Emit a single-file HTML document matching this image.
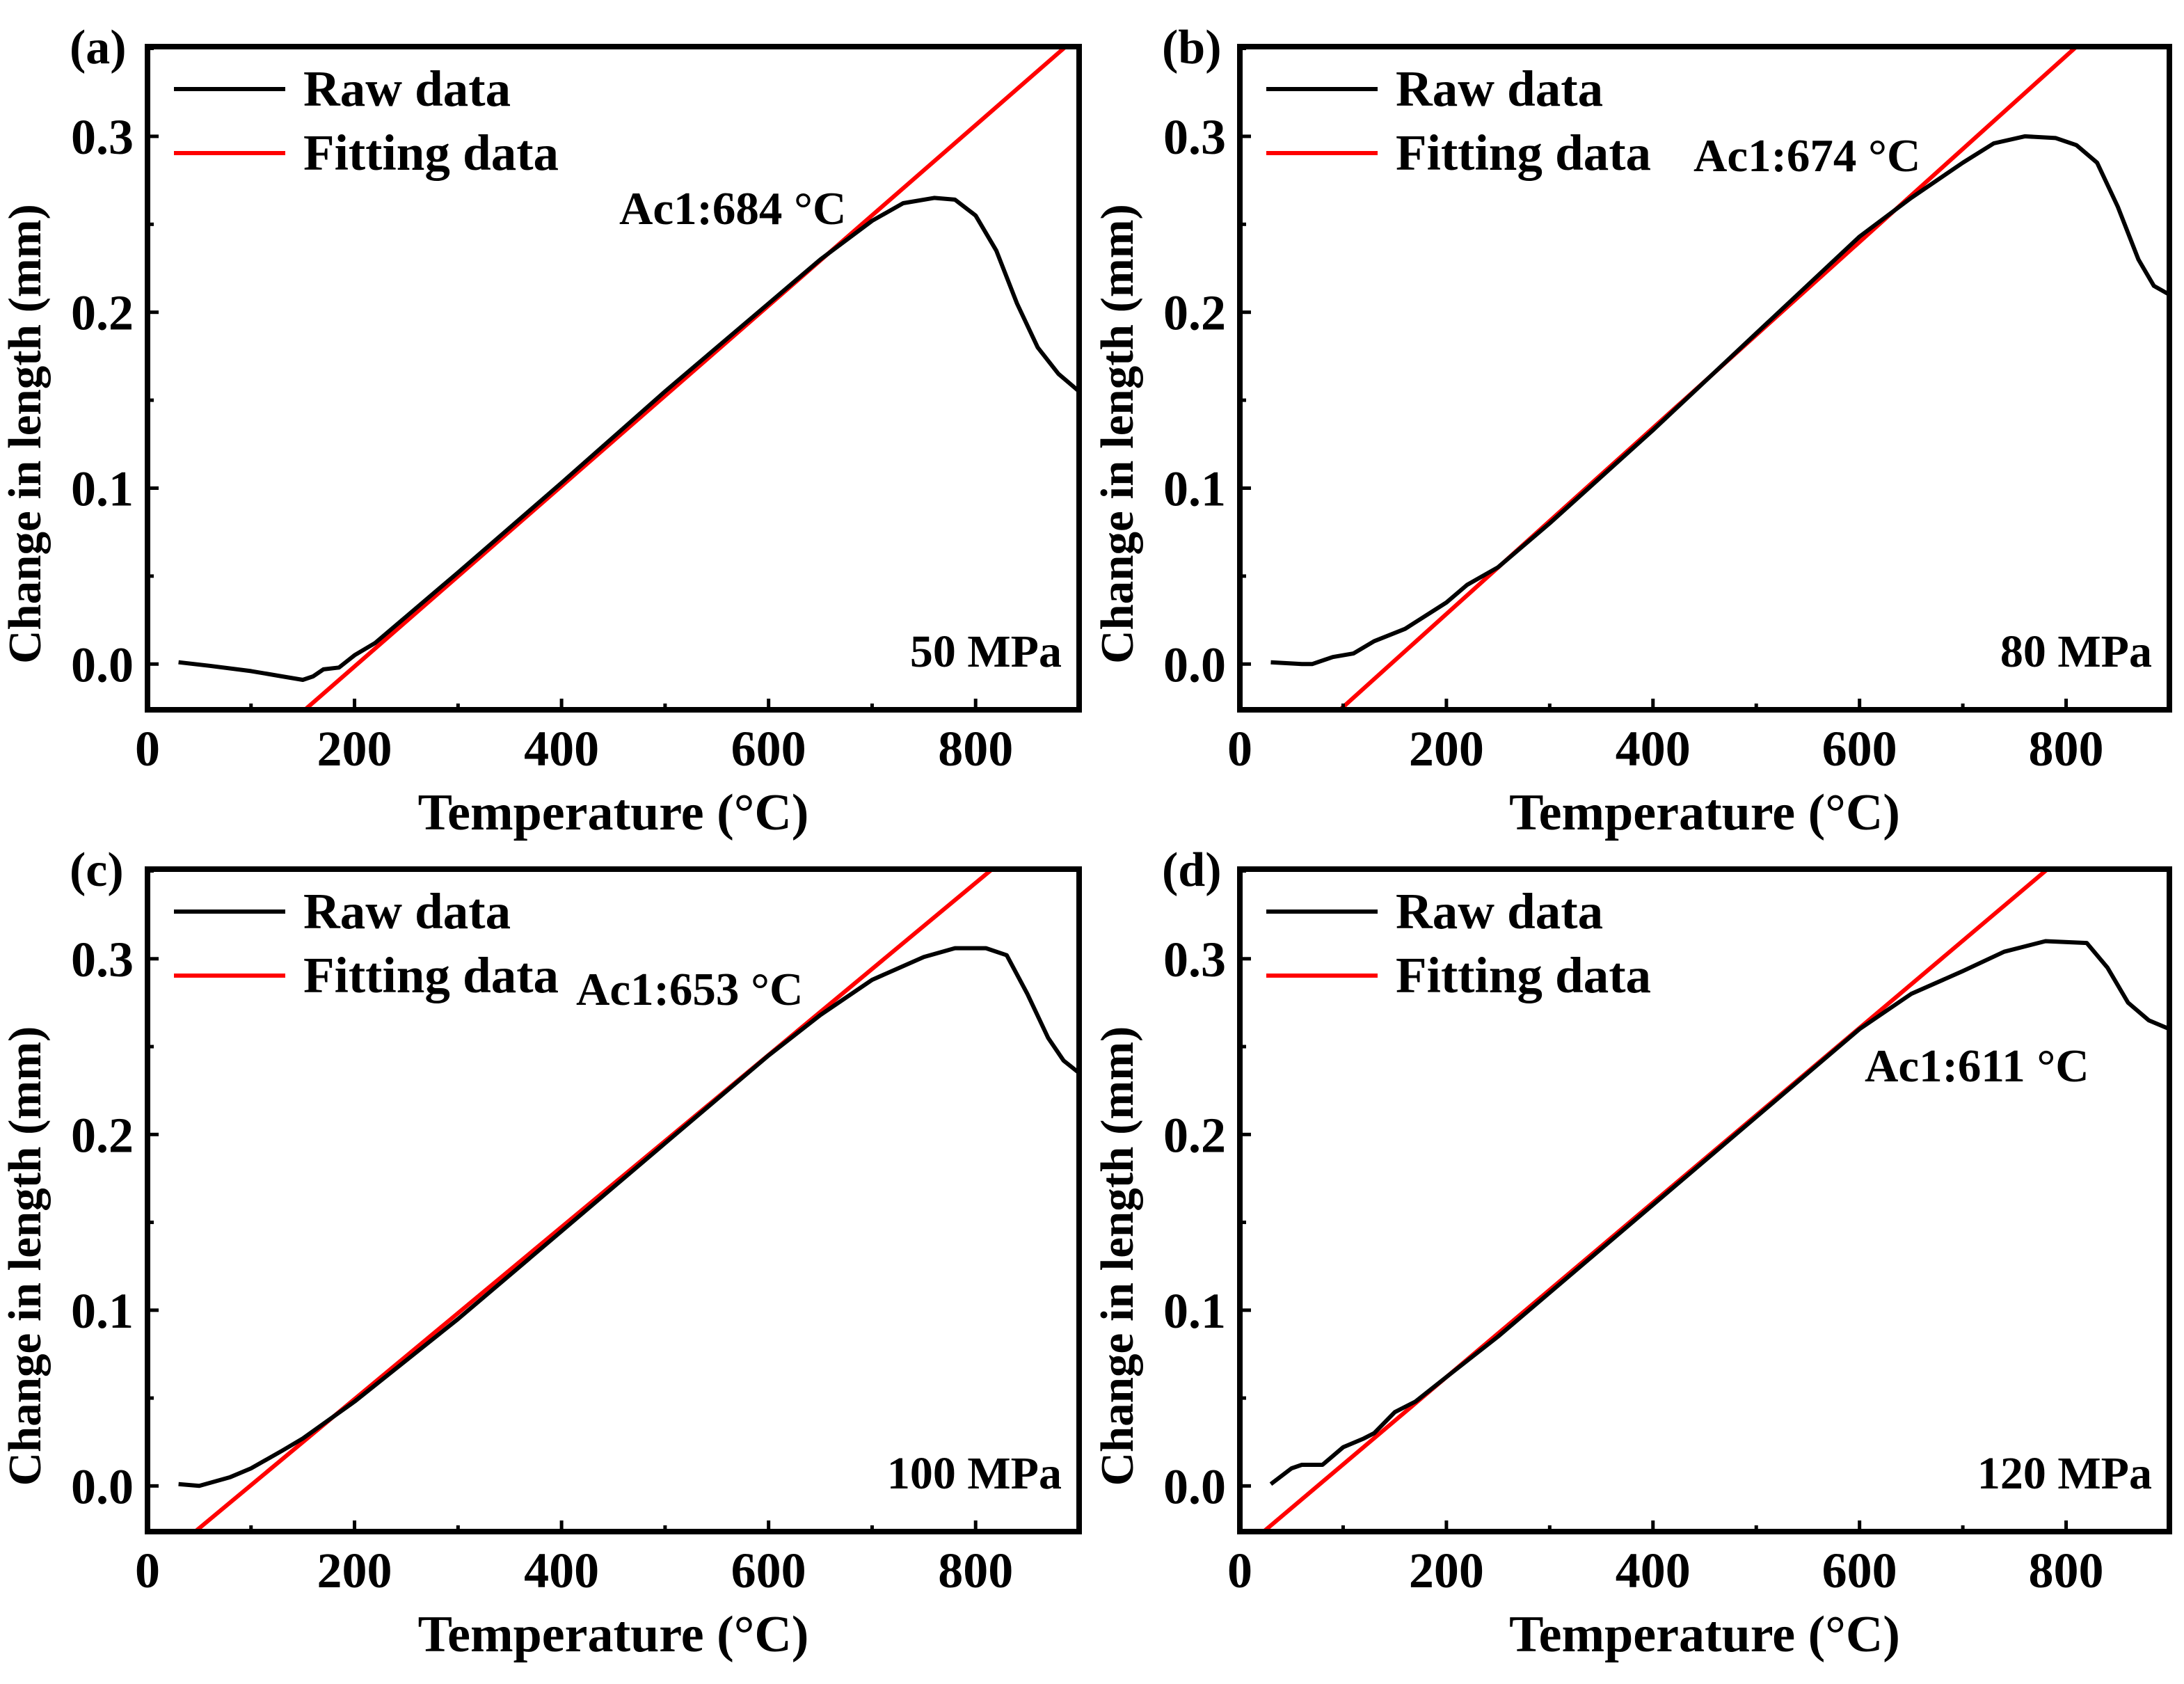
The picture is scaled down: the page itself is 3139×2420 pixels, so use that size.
<!DOCTYPE html>
<html><head><meta charset="utf-8"><style>
body{margin:0;background:#fff}
svg text{font-family:"Liberation Serif",serif;font-weight:bold;fill:#000}
</style></head><body>
<svg id="fig" width="3139" height="2415" viewBox="0 0 3139 2415" xmlns="http://www.w3.org/2000/svg"></svg>
<script>
const xTicks=[0,200,400,600,800];
const yTicks=[0.0,0.1,0.2,0.3];
const yTickLabels=["0.0","0.1","0.2","0.3"];
const panelLabels=["(a)","(b)","(c)","(d)"];
const pressureLabels=["50 MPa","80 MPa","100 MPa","120 MPa"];
const ac1Labels=["Ac1:684 °C","Ac1:674 °C","Ac1:653 °C","Ac1:611 °C"];
const rawT_a=[30,60,100,130,150,160,170,185,200,220,250,300,400,500,550,600,650,700,730,760,780,800,820,840,860,880,900];
const rawV_a=[0.001,-0.001,-0.004,-0.007,-0.009,-0.007,-0.003,-0.002,0.005,0.012,0.027,0.052,0.103,0.155,0.18,0.205,0.23,0.252,0.262,0.265,0.264,0.255,0.235,0.205,0.18,0.165,0.155];
const rawT_b=[30,60,70,90,110,130,160,200,220,250,300,400,500,600,650,700,730,760,790,810,830,850,870,885,900];
const rawV_b=[0.001,0.0,0.0,0.004,0.006,0.013,0.02,0.035,0.045,0.055,0.08,0.133,0.188,0.243,0.265,0.285,0.296,0.3,0.299,0.295,0.285,0.26,0.23,0.215,0.21];
const rawT_c=[30,50,80,100,130,150,200,300,400,500,600,650,700,750,780,810,830,850,870,885,900];
const rawV_c=[0.001,0.0,0.005,0.01,0.02,0.027,0.048,0.095,0.145,0.195,0.245,0.268,0.288,0.301,0.306,0.306,0.302,0.28,0.255,0.242,0.235];
const rawT_d=[30,50,60,80,100,120,130,150,170,200,250,300,400,500,600,650,700,740,780,820,840,860,880,900];
const rawV_d=[0.001,0.01,0.012,0.012,0.022,0.027,0.03,0.042,0.048,0.062,0.085,0.11,0.16,0.21,0.26,0.28,0.293,0.304,0.31,0.309,0.295,0.275,0.265,0.26];
const fitT_a=[152,887], fitV_a=[-0.026,0.351];
const fitT_b=[97,810], fitV_b=[-0.026,0.351];
const fitT_c=[46,816], fitV_c=[-0.026,0.351];
const fitT_d=[23,782], fitV_d=[-0.026,0.351];

const NS="http://www.w3.org/2000/svg";
const svg=document.getElementById('fig');
function el(tag,attrs,parent,text){const e=document.createElementNS(NS,tag);for(const k in attrs)e.setAttribute(k,attrs[k]);if(text!==undefined)e.textContent=text;(parent||svg).appendChild(e);return e;}
const panels=[
 {L:212,R:1551,T:67,B:1020,raw:[rawT_a,rawV_a],fit:[fitT_a,fitV_a],ac:[890,318]},
 {L:1782,R:3118,T:67,B:1020,raw:[rawT_b,rawV_b],fit:[fitT_b,fitV_b],ac:[2434,242]},
 {L:212,R:1551,T:1249,B:2201,raw:[rawT_c,rawV_c],fit:[fitT_c,fitV_c],ac:[828,1440]},
 {L:1782,R:3118,T:1249,B:2201,raw:[rawT_d,rawV_d],fit:[fitT_d,fitV_d],ac:[2680,1550]}
];
const XMIN=0,XMAX=900,YMIN=-0.026,YMAX=0.351;
panels.forEach((p,i)=>{
 const g=el('g',{});
 
 
 const sx=t=>p.L+(t-XMIN)/(XMAX-XMIN)*(p.R-p.L);
 const sy=v=>p.B-(v-YMIN)/(YMAX-YMIN)*(p.B-p.T);
 const cp=el('clipPath',{id:'cp'+i},g);
 el('rect',{x:p.L,y:p.T,width:p.R-p.L,height:p.B-p.T},cp);
 const f=el('line',{x1:sx(p.fit[0][0]),y1:sy(p.fit[1][0]),x2:sx(p.fit[0][1]),y2:sy(p.fit[1][1]),stroke:'#ff0000','stroke-width':6,'clip-path':'url(#cp'+i+')'},g);
 
 
 const d=p.raw[0].map((t,k)=>(k?'L':'M')+sx(t).toFixed(1)+' '+sy(p.raw[1][k]).toFixed(1)).join(' ');
 const r=el('path',{d:d,fill:'none',stroke:'#000','stroke-width':6,'stroke-linejoin':'round','clip-path':'url(#cp'+i+')'},g);
 
 
 const fr=el('rect',{x:p.L,y:p.T,width:p.R-p.L,height:p.B-p.T,fill:'none',stroke:'#000','stroke-width':8},g);
 
 
 for(let t=0;t<=900;t+=100){const x=sx(t);const len=(t%200===0)?16:9;el('line',{x1:x,y1:p.B,x2:x,y2:p.B-len,stroke:'#000','stroke-width':5},g);}
 xTicks.forEach(t=>{const tx=el('text',{x:sx(t),y:p.B+80,'text-anchor':'middle','font-size':72},g,String(t));});
 for(let v=0;v<=0.35;v+=0.05){const y=sy(v);const major=Math.round(v*100)%10===0;el('line',{x1:p.L,y1:y,x2:p.L+(major?16:9),y2:y,stroke:'#000','stroke-width':5},g);}
 yTicks.forEach((v,k)=>{const ty=el('text',{x:p.L-20,y:sy(v)+25,'text-anchor':'end','font-size':72},g,yTickLabels[k]);});
 const xt=el('text',{x:(p.L+p.R)/2,y:p.B+172,'text-anchor':'middle','font-size':74},g,'Temperature (°C)');
 
 
 const yc=(p.T+p.B)/2+80, yx=p.L-154;
 const yt=el('text',{x:yx,y:yc,'text-anchor':'middle','font-size':67,transform:'rotate(-90 '+yx+' '+yc+')'},g,'Change in length (mm)');
 
 
 const pl=el('text',{x:p.L-112,y:p.T+24,'font-size':70},g,panelLabels[i]);
 
 
 el('line',{x1:p.L+38,y1:p.T+61,x2:p.L+198,y2:p.T+61,stroke:'#000','stroke-width':6},g);
 const l1=el('text',{x:p.L+224,y:p.T+85,'font-size':73},g,'Raw data');
 
 
 el('line',{x1:p.L+38,y1:p.T+153,x2:p.L+198,y2:p.T+153,stroke:'#ff0000','stroke-width':6},g);
 const l2=el('text',{x:p.L+224,y:p.T+177,'font-size':73},g,'Fitting data');
 
 
 const ac=el('text',{x:p.ac[0],y:p.ac[1]+4,'font-size':67},g,ac1Labels[i]);
 
 
 const mp=el('text',{x:p.R-25,y:p.B-62,'text-anchor':'end','font-size':66},g,pressureLabels[i]);
 
 
});
</script>
</body></html>
